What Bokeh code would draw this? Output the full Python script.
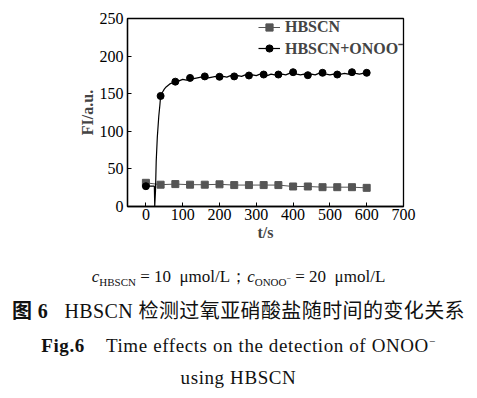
from bokeh.plotting import figure
from bokeh.models import Div, Legend, LegendItem, Range1d, FixedTicker
from bokeh.layouts import column
from bokeh.embed import file_html
from bokeh.resources import INLINE

# Data
t_markers = [0, 40, 80, 120, 160, 200, 240, 280, 320, 360, 400, 440, 480, 520, 560, 600]
hbscn = [31.5, 29.0, 29.8, 29.0, 29.0, 29.5, 28.5, 28.5, 28.5, 28.5, 26.6, 26.6, 25.7, 25.7, 25.7, 24.8]
onoo_markers = [27, 147, 166, 171, 173, 172.5, 173, 174.2, 175.5, 175.5, 178.6, 174.6, 177.8, 175.5, 178.6, 177.8]

t_onoo_line = [0, 5, 10, 15, 20, 23, 24, 26, 28, 31, 35, 38, 40, 45, 50, 55, 60, 65, 70, 75, 80,
               90, 100, 110, 120, 130, 140, 150, 160, 170, 180, 190, 200, 210, 220, 230, 240,
               250, 260, 270, 280, 290, 300, 310, 320, 330, 340, 350, 360, 370, 380, 390, 400,
               410, 420, 430, 440, 450, 460, 470, 480, 490, 500, 510, 520, 530, 540, 550, 560,
               570, 580, 590, 600]
onoo_line = [27, 27, 27, 27, 27, 27, 0, 20, 60, 92, 120, 135, 147, 152, 156, 159, 161, 163, 164, 165, 166,
             167, 169, 168, 171, 170, 171, 172, 173, 171, 172, 173, 172.5, 173, 172, 174, 173,
             174, 173, 175, 174.2, 175, 174, 176, 175.5, 174, 176, 175, 175.5, 176, 175, 177, 178.6,
             176, 175, 176, 174.6, 176, 175, 177, 177.8, 176, 175, 176, 175.5, 176, 177, 176, 178.6,
             177, 176, 177, 177.8]

x_ticks = [0, 100, 200, 300, 400, 500, 600, 700]
y_ticks = [0, 50, 100, 150, 200, 250]

SERIF = "Liberation Serif"

p = figure(width=469, height=248, x_range=Range1d(-50, 700), y_range=Range1d(0, 250),
           output_backend="svg", toolbar_location=None,
           min_border_left=127, min_border_right=66, min_border_top=18, min_border_bottom=42)

p.xgrid.visible = False
p.ygrid.visible = False
p.outline_line_color = "black"
p.outline_line_width = 1.3

for ax in (p.xaxis, p.yaxis):
    ax.axis_line_width = 1.3
    ax.major_tick_in = 4
    ax.major_tick_out = 0
    ax.minor_tick_line_color = None
    ax.major_label_text_font = SERIF
    ax.major_label_text_font_size = "16px"
    ax.major_label_text_color = "black"
    ax.axis_label_text_font = SERIF
    ax.axis_label_text_font_size = "16px"
    ax.axis_label_text_font_style = "bold"

p.xaxis.ticker = FixedTicker(ticks=x_ticks)
p.yaxis.ticker = FixedTicker(ticks=y_ticks)
p.xaxis.axis_label = "t/s"
p.yaxis.axis_label = "FI/a.u."
p.xaxis.major_label_standoff = 2
p.yaxis.major_label_standoff = 4
p.xaxis.axis_label_standoff = 1
p.yaxis.axis_label_standoff = 1

gray = "#555555"
g_line = p.line(t_markers, hbscn, line_color=gray, line_width=1)
g_mark = p.scatter(t_markers, hbscn, marker="square", size=7, fill_color=gray, line_color=gray)

b_line = p.line(t_onoo_line, onoo_line, line_color="black", line_width=1.2)
b_mark = p.scatter(t_markers, onoo_markers, marker="circle", size=7, fill_color="black", line_color="black")

legend = Legend(items=[LegendItem(label="HBSCN", renderers=[g_line, g_mark]),
                       LegendItem(label="HBSCN+ONOO\u207b", renderers=[b_line, b_mark])],
                location=(131, 147), padding=0, margin=0, spacing=1,
                glyph_width=22, glyph_height=18, label_height=18, label_standoff=5,
                border_line_color=None, background_fill_alpha=0,
                label_text_font=SERIF, label_text_font_size="16px", label_text_font_style="bold")
p.add_layout(legend)

blk = "font-family:'Liberation Serif','Times New Roman',serif;color:#111;text-align:center;width:477px;white-space:nowrap;margin:0;padding:0;overflow:visible;"
cjk = "font-family:'Noto Sans CJK SC';"

caption = Div(width=477, height=142, margin=0, text=(
    "<div style='height:12px'></div>"
    f"<div style=\"{blk}height:34px;line-height:34px;font-size:17px;\">"
    "<i>c</i><sub style='font-size:11px;line-height:0'>HBSCN</sub> = 10&nbsp; \u03bcmol/L\uff1b"
    "<i>c</i><sub style='font-size:11px;line-height:0'>ONOO<sup style='font-size:8px;line-height:0'>\u2212</sup></sub>"
    " = 20&nbsp; \u03bcmol/L</div>"
    f"<div style=\"{blk}height:32px;line-height:32px;font-size:20px;letter-spacing:0.4px;\">"
    f"<b style=\"{cjk}\">\u56fe</b><b> 6</b>&nbsp;&nbsp;&nbsp;HBSCN "
    f"<span style=\"{cjk}\">\u68c0\u6d4b\u8fc7\u6c27\u4e9a\u785d\u9178\u76d0\u968f\u65f6\u95f4\u7684\u53d8\u5316\u5173\u7cfb</span></div>"
    f"<div style=\"{blk}height:40px;line-height:40px;font-size:19px;letter-spacing:0.6px;\">"
    "<b>Fig.6</b>&nbsp;&nbsp;&nbsp; Time effects on the detection of ONOO<sup style='font-size:11px;line-height:0'>\u2212</sup></div>"
    f"<div style=\"{blk}height:24px;line-height:24px;font-size:19px;letter-spacing:0.6px;\">using HBSCN</div>"))

layout = column(p, caption)

open("out.html", "w").write(file_html(layout, INLINE))
